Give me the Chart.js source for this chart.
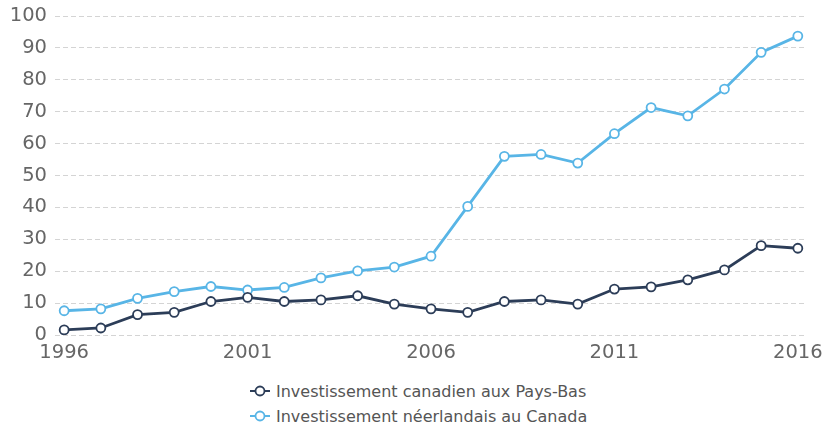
<!DOCTYPE html>
<html>
<head>
<meta charset="utf-8">
<script src="https://cdn.jsdelivr.net/npm/chart.js@4"></script>
<style>
  body { margin: 0; background: #fff; font-family: "DejaVu Sans", sans-serif; }
  #wrap { position: relative; width: 822px; height: 427px; }
  #box { position: absolute; left: 0; top: 0; width: 822px; height: 370px; }
  #legend { position: absolute; left: 249px; top: 379px; font-size: 16px; color: #555; }
  #legend div { height: 25px; line-height: 25px; white-space: nowrap; }
  #legend svg { vertical-align: middle; margin-right: 5px; margin-top: -3px; }
</style>
</head>
<body>
<div id="wrap">
  <div id="box"><canvas id="chart"></canvas></div>
  <div id="legend"></div>
</div>
<script>
// データ
const years = [1996, 1997, 1998, 1999, 2000, 2001, 2002, 2003, 2004, 2005, 2006,
               2007, 2008, 2009, 2010, 2011, 2012, 2013, 2014, 2015, 2016];
const canadaInNL = [1.6, 2.2, 6.4, 7.1, 10.5, 11.8, 10.5, 11.0, 12.3, 9.7, 8.2,
                    7.1, 10.5, 11.0, 9.7, 14.4, 15.1, 17.3, 20.4, 28.0, 27.2];
const nlInCanada = [7.6, 8.2, 11.5, 13.6, 15.2, 14.1, 14.9, 17.9, 20.1, 21.3, 24.7,
                    40.3, 56.0, 56.6, 53.9, 63.1, 71.3, 68.7, 77.1, 88.6, 93.7];
const seriesNames = ['Investissement canadien aux Pays-Bas', 'Investissement néerlandais au Canada'];
const seriesColors = ['#2c3d58', '#58b5e6'];
const xTicks = [1996, 2001, 2006, 2011, 2016];

function toPoints(values) {
    return years.map((y, i) => ({ x: y, y: values[i] }));
}

function makeDataset(label, values, color) {
    return {
        label: label,
        data: toPoints(values),
        borderColor: color,
        backgroundColor: '#fff',
        borderWidth: 2.8,
        pointRadius: 4.5,
        pointHoverRadius: 5,
        pointBorderWidth: 1.8,
        pointBackgroundColor: '#fff',
        pointBorderColor: color,
        tension: 0
    };
}

const ctx = document.getElementById('chart').getContext('2d');
const chart = new Chart(ctx, {
    type: 'line',
    data: {
        datasets: [
            makeDataset(seriesNames[0], canadaInNL, seriesColors[0]),
            makeDataset(seriesNames[1], nlInCanada, seriesColors[1])
        ]
    },
    options: {
        responsive: true,
        maintainAspectRatio: false,
        animation: false,
        layout: { padding: { left: 0, top: 16, right: 15, bottom: 0 } },
        plugins: {
            legend: { display: false },
            tooltip: { enabled: false }
        },
        scales: {
            x: {
                type: 'linear',
                min: 1995.75,
                max: 2016.25,
                afterBuildTicks: (scale) => {
                    scale.ticks = xTicks.map(v => ({ value: v }));
                },
                afterFit: (scale) => {
                    scale.paddingLeft = 0;
                    scale.paddingRight = 0;
                    scale.height = 35;
                },
                grid: { display: false, drawTicks: false },
                border: { display: false },
                ticks: {
                    callback: (v) => String(v),
                    color: '#666',
                    font: { family: 'DejaVu Sans', size: 19.5 },
                    padding: 6,
                    maxRotation: 0,
                    autoSkip: false
                }
            },
            y: {
                min: 0,
                max: 100,
                afterFit: (scale) => {
                    scale.width = 55;
                    scale.paddingTop = 0;
                    scale.paddingBottom = 0;
                },
                grid: { color: '#d4d4d4', lineWidth: 1, drawTicks: false },
                border: { display: false, dash: [5, 3] },
                ticks: {
                    stepSize: 10,
                    color: '#666',
                    font: { family: 'DejaVu Sans', size: 19.5 },
                    padding: 8
                }
            }
        }
    }
});

// 凡例
const legend = document.getElementById('legend');
seriesNames.forEach((name, i) => {
    const row = document.createElement('div');
    row.innerHTML = '<svg width="22" height="14"><line x1="1" y1="7" x2="21" y2="7" stroke="' + seriesColors[i] +
        '" stroke-width="2"/><circle cx="11" cy="7" r="4.5" fill="#fff" stroke="' + seriesColors[i] +
        '" stroke-width="1.8"/></svg>';
    row.appendChild(document.createTextNode(name));
    legend.appendChild(row);
});
</script>
</body>
</html>
